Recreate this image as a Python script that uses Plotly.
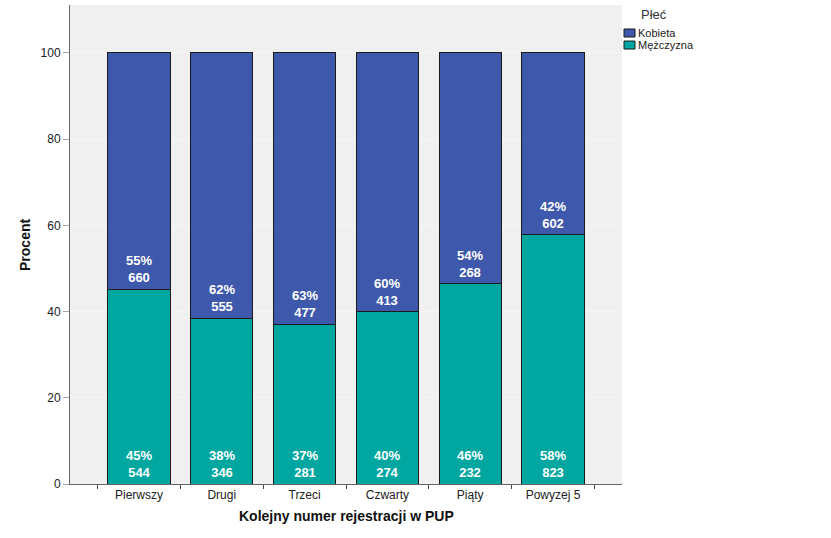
import plotly.graph_objects as go

categories = ["Pierwszy", "Drugi", "Trzeci", "Czwarty", "Piąty", "Powyzej 5"]
men_pct = [45.2, 38.4, 37.1, 39.9, 46.4, 57.8]
women_pct = [54.8, 61.6, 62.9, 60.1, 53.6, 42.2]
men_n = [544, 346, 281, 274, 232, 823]
women_n = [660, 555, 477, 413, 268, 602]
men_lbl = ["45%", "38%", "37%", "40%", "46%", "58%"]
women_lbl = ["55%", "62%", "63%", "60%", "54%", "42%"]
y_ticks = [0, 20, 40, 60, 80, 100]

BLUE = "#3E58AC"
TEAL = "#00A6A0"
FONT = "Liberation Sans, Arial"

fig = go.Figure()
fig.add_trace(go.Bar(x=categories, y=men_pct, name="Mężczyzna",
                     marker=dict(color=TEAL, line=dict(color="#1a1a1a", width=1)), width=0.75, hoverinfo="skip"))
fig.add_trace(go.Bar(x=categories, y=women_pct, name="Kobieta",
                     marker=dict(color=BLUE, line=dict(color="#1a1a1a", width=1)), width=0.75, hoverinfo="skip"))

lab_font = dict(family=FONT, size=13, color="white")
for i, c in enumerate(categories):
    fig.add_annotation(x=c, y=0, yanchor="middle", yshift=20, showarrow=False,
                       text=f"<b>{men_lbl[i]}<br>{men_n[i]}</b>", font=lab_font)
    fig.add_annotation(x=c, y=men_pct[i], yanchor="middle", yshift=20, showarrow=False,
                       text=f"<b>{women_lbl[i]}<br>{women_n[i]}</b>", font=lab_font)

# axis titles
fig.add_annotation(xref="paper", yref="paper", x=0.5, y=-0.0668, yanchor="middle", showarrow=False,
                   text="<b>Kolejny numer rejestracji w PUP</b>", font=dict(family=FONT, size=14, color="#111"))
fig.add_annotation(xref="paper", yref="paper", x=-0.0815, y=0.499, xanchor="center", yanchor="middle",
                   textangle=-90, showarrow=False,
                   text="<b>Procent</b>", font=dict(family=FONT, size=14, color="#111"))

# custom legend
fig.add_annotation(xref="paper", yref="paper", x=1.058, y=0.9812, xanchor="center", yanchor="middle",
                   showarrow=False, text="Płeć", font=dict(family=FONT, size=13, color="#333"))
legend_items = [("Kobieta", BLUE, 0.9332, 0.9499), ("Mężczyzna", TEAL, 0.9081, 0.9248)]
for name, col, y0, y1 in legend_items:
    fig.add_shape(type="rect", xref="paper", yref="paper", x0=1.0036, x1=1.0236, y0=y0, y1=y1,
                  fillcolor=col, line=dict(color="#1a1a1a", width=1))
    fig.add_annotation(xref="paper", yref="paper", x=1.0255, y=(y0 + y1) / 2, xanchor="left", yanchor="middle",
                       showarrow=False, text=name, font=dict(family=FONT, size=11, color="#222"))

fig.update_layout(
    width=831, height=538,
    barmode="stack",
    paper_bgcolor="white", plot_bgcolor="#F0F0F0",
    margin=dict(l=70, r=209, t=5, b=54),
    font=dict(family=FONT, size=12, color="#222"),
    showlegend=False,
)
fig.update_xaxes(type="category", range=[-5/6, 5 + 5/6], tickson="boundaries", automargin=False,
                 ticks="outside", ticklen=4, tickcolor="#444", showline=True, linecolor="#666",
                 showgrid=False, tickfont=dict(family=FONT, size=12, color="#222"))
fig.update_yaxes(range=[0, 111.1], tickvals=y_ticks, ticks="outside", ticklen=6, automargin=False,
                 tickcolor="#aaa", showline=True, linecolor="#666", showgrid=True, gridcolor="#F5F5F8",
                 zeroline=False, tickfont=dict(family=FONT, size=12, color="#222"))

fig.write_html("out.html", config={"displayModeBar": False},
               post_script="document.body.style.margin='0px';document.body.style.overflow='hidden';")
